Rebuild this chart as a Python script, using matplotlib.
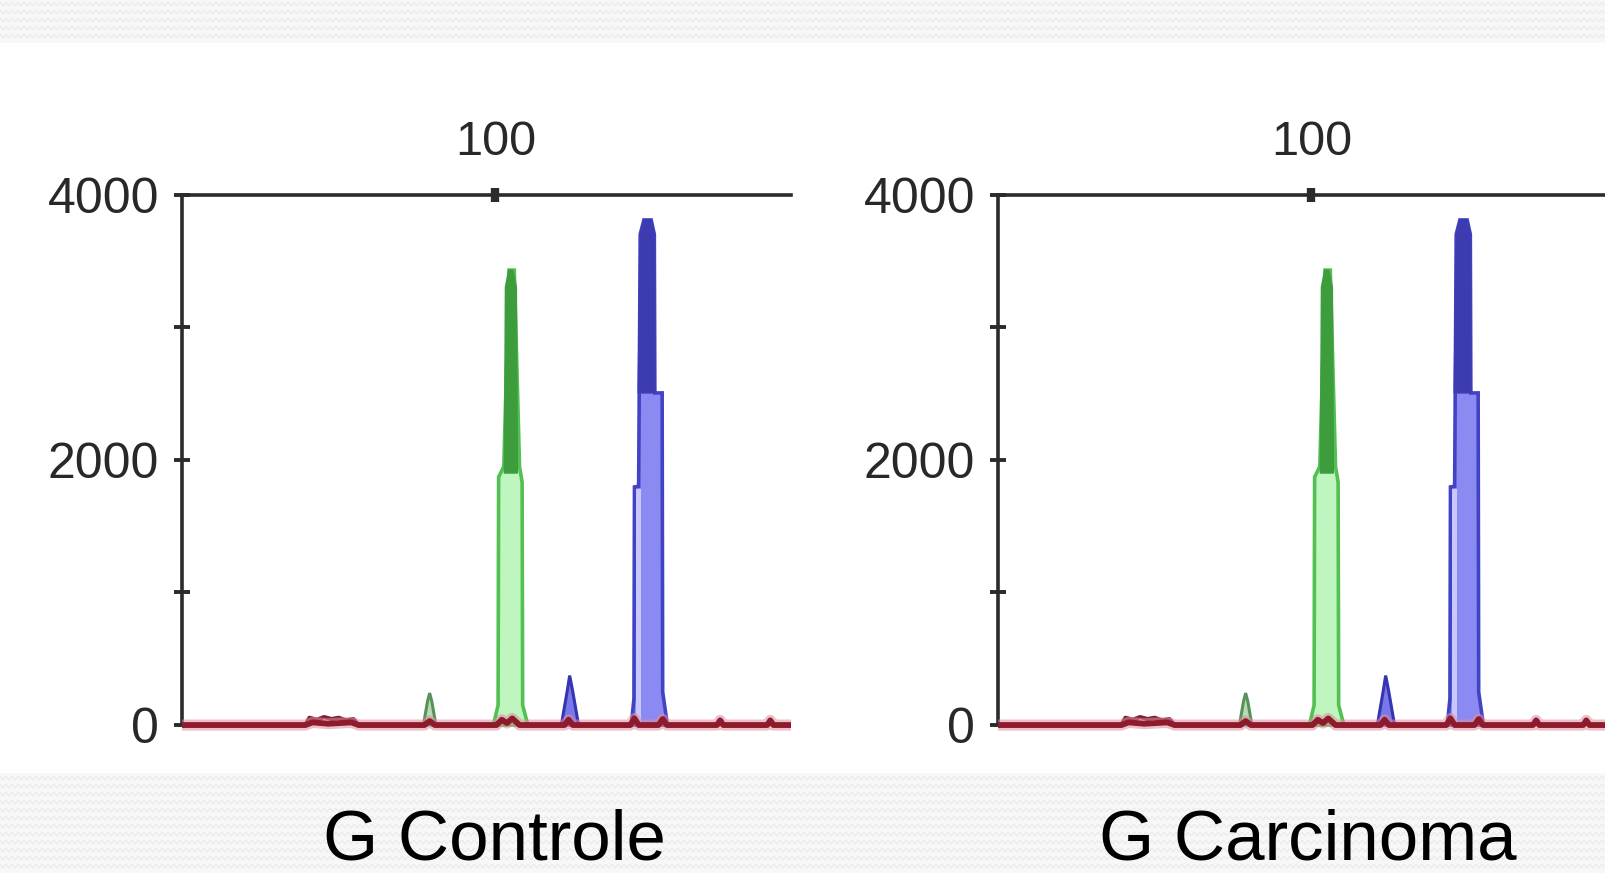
import numpy as np
import matplotlib
matplotlib.use("Agg")
import matplotlib.pyplot as plt

# ---------------- data ----------------
panel_titles = ["G Controle", "G Carcinoma"]
y_ticks = [0, 1000, 2000, 3000, 4000]
y_tick_labels = ["0", "", "2000", "", "4000"]
x_ticks = [100]
x_tick_labels = ["100"]

# large green peak: outer envelope and dark core
green_outer_bp = [99.8, 100.25, 100.3, 100.8, 101.3, 101.8, 102.3, 102.55, 102.6, 103.1]
green_outer_rfu = [0, 150, 1870, 1950, 3430, 3430, 1950, 1830, 150, 0]
green_core_bp = [100.85, 100.95, 101.25, 101.65, 102.0, 102.1]
green_core_rfu = [1900, 3300, 3430, 3430, 3300, 1900]

# large blue peak: outer envelope, dark top and light stripe
blue_outer_bp = [113.0, 113.25, 113.3, 113.7, 113.85, 114.2, 114.9, 115.2, 115.25, 115.95, 116.0, 116.45]
blue_outer_rfu = [0, 200, 1795, 1800, 3700, 3808, 3808, 3700, 2504, 2504, 250, 0]
blue_core_bp = [113.65, 113.85, 114.2, 114.9, 115.2, 115.25]
blue_core_rfu = [2504, 3700, 3808, 3808, 3700, 2504]
blue_stripe_bp = [113.45, 113.45, 113.95, 113.95]
blue_stripe_rfu = [0, 1780, 1780, 0]

# small peaks
small_blue_bp = [106.3, 106.85, 107.1, 107.4, 107.95]
small_blue_rfu = [0, 250, 373, 250, 0]
small_green_bp = [93.1, 93.5, 93.7, 93.9, 94.3]
small_green_rfu = [0, 180, 241, 180, 0]
brown_bp = [81.8, 82.2, 82.9, 83.6, 84.3, 85.0, 85.7, 86.4, 86.9]
brown_rfu = [0, 55, 40, 60, 45, 55, 35, 45, 0]

# red baseline trace
red_bp = [70, 81.8, 82.5, 84, 86.2, 86.9, 93.2, 93.7, 94.2, 100.1, 100.6, 101.1, 101.6, 102.3,
          106.6, 107.0, 107.4, 112.9, 113.3, 113.7, 115.6, 116.0, 116.4, 121.2, 121.5, 121.8,
          126.0, 126.3, 126.6, 128.3]
red_rfu = [0, 0, 20, 10, 20, 0, 0, 30, 0, 0, 40, 15, 50, 0,
           0, 40, 0, 0, 50, 0, 0, 45, 0, 0, 35, 0,
           0, 35, 0, 0]

# ---------------- figure ----------------
W, H = 1605, 873
fig = plt.figure(figsize=(W / 100, H / 100), dpi=100)
fig.patch.set_facecolor("white")

# textured background bands
bg = fig.add_axes([0, 0, 1, 1], zorder=-10)
bg.set_xlim(0, W)
bg.set_ylim(H, 0)
bg.axis("off")
bg.axhspan(0, 43, color="#f7f7f7", lw=0)
bg.axhspan(773, H, color="#f7f7f7", lw=0)
xs = np.arange(0, W + 6, 3)
zig = np.where(np.arange(len(xs)) % 2 == 0, -1.6, 1.6)
for y0 in list(np.arange(4, 43, 8)) + list(np.arange(778, H, 8)):
    bg.plot(xs, y0 + zig, color="#e3e3e3", lw=0.5)

FONT = "Liberation Sans"
spine_col = "#2b2b2b"

ax_lefts = [182 / W, 998 / W]
ax_w = (791 - 182) / W
ax_bottom = (H - 733) / H
ax_h = (733 - 194.5) / H

for i, left in enumerate(ax_lefts):
    ax = fig.add_axes([left, ax_bottom, ax_w, ax_h])
    ax.patch.set_alpha(0)
    ax.set_xlim(70, 128.28)
    ax.set_ylim(-60, 4000)

    # traces
    ax.fill(green_outer_bp, green_outer_rfu, facecolor="#bff5bf", edgecolor="#52c052", lw=2.6, zorder=3)
    ax.fill(green_core_bp, green_core_rfu, facecolor="#3d9d3d", edgecolor="#3d9d3d", lw=1, zorder=4)
    ax.fill(blue_outer_bp, blue_outer_rfu, facecolor="#8a8af2", edgecolor="#4242c4", lw=2.6, zorder=3)
    ax.fill(blue_stripe_bp, blue_stripe_rfu, facecolor="#c8c8ff", edgecolor="none", zorder=4)
    ax.fill(blue_core_bp, blue_core_rfu, facecolor="#3c3cb0", edgecolor="#3c3cb0", lw=1, zorder=4)
    ax.fill(small_blue_bp, small_blue_rfu, facecolor="#7878e6", edgecolor="#3434b4", lw=2.2, zorder=3)
    ax.fill(small_green_bp, small_green_rfu, facecolor="#b5dcb5", edgecolor="#5b8f5b", lw=2.2, zorder=3)
    ax.plot(brown_bp, brown_rfu, color="#7a2035", lw=3, zorder=3)
    ax.plot(red_bp, red_rfu, color="#e08ca0", lw=8, alpha=0.55, zorder=5, solid_capstyle="butt")
    ax.plot(red_bp, red_rfu, color="#8e1b2b", lw=4.2, zorder=6, solid_capstyle="butt")

    # spines
    for s in ["right", "bottom"]:
        ax.spines[s].set_visible(False)
    for s in ["left", "top"]:
        ax.spines[s].set_color(spine_col)
        ax.spines[s].set_linewidth(2.6)
    ax.spines["left"].set_bounds(0, 4000)

    ax.set_yticks(y_ticks)
    ax.set_yticklabels(y_tick_labels, fontsize=36, family=FONT, color="#282828")
    ax.tick_params(axis="y", direction="inout", length=11, width=2.8, color=spine_col, pad=11)

    ax.xaxis.tick_top()
    ax.set_xticks(x_ticks)
    ax.set_xticklabels(x_tick_labels, fontsize=35, family=FONT, color="#282828")
    ax.tick_params(axis="x", direction="inout", length=10, width=6, color=spine_col, pad=16)

    fig.text([494 / W, 1307.6 / W][i], 14 / H, panel_titles[i], fontsize=51,
             family=FONT, color="black", ha="center", va="baseline")

fig.savefig("out.png", dpi=100)
